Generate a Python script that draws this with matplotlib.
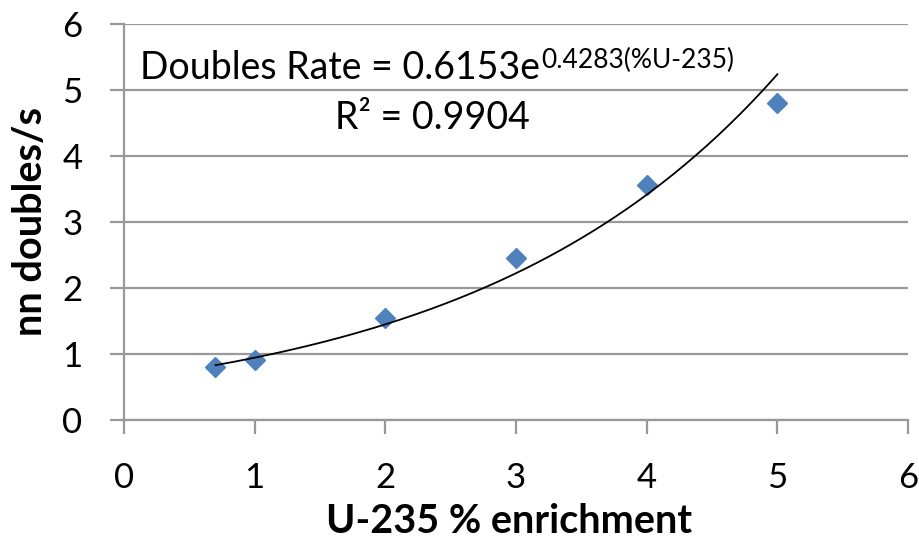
import matplotlib
matplotlib.use("Agg")
import matplotlib.pyplot as plt
import numpy as np

enrichment = [0.7, 1, 2, 3, 4, 5]
doubles = [0.81, 0.91, 1.54, 2.46, 3.56, 4.80]
fit_a = 0.6153
fit_b = 0.4283
r_squared = 0.9904
x_ticks = [0, 1, 2, 3, 4, 5, 6]
y_ticks = [0, 1, 2, 3, 4, 5, 6]

plt.rcParams["font.family"] = ["Lato", "DejaVu Sans"]

grid_color = "#999999"
marker_color = "#4F81BD"

fig = plt.figure(figsize=(9.2, 5.4), dpi=100)
ax = fig.add_axes([124 / 920, 1 - 420 / 540, 784 / 920, 396 / 540])

ax.set_xlim(0, 6)
ax.set_ylim(0, 6)
ax.set_xticks(x_ticks)
ax.set_yticks(y_ticks)
ax.yaxis.grid(True, color=grid_color, linewidth=1.6)
ax.set_axisbelow(True)

for side in ["top", "right"]:
    ax.spines[side].set_visible(False)
for side in ["left", "bottom"]:
    ax.spines[side].set_color(grid_color)
    ax.spines[side].set_linewidth(1.6)

ax.tick_params(axis="both", length=10, width=1.6, color=grid_color,
               labelsize=25, pad=20)

# trendline from the displayed fit
xs = np.linspace(min(enrichment), max(enrichment), 200)
ax.plot(xs, fit_a * np.exp(fit_b * xs), color="black", linewidth=1.3, zorder=3)

ax.plot(enrichment, doubles, linestyle="none", marker="D", markersize=10,
        color=marker_color, zorder=2, clip_on=False)

fig.text(509 / 920, 7 / 540, "U-235 % enrichment", fontsize=28.5,
         fontweight="bold", ha="center", va="baseline")
fig.text(42 / 920, 1 - 222 / 540, "nn doubles/s", fontsize=28.5,
         fontweight="bold", ha="center", va="baseline", rotation=90,
         rotation_mode="anchor")

eq = ax.text(0.12, 5.17, f"Doubles Rate = {fit_a}e", fontsize=27,
             va="baseline", ha="left")
ax.annotate(f"{fit_b}(%U-235)", xy=(1, 1), xycoords=eq, xytext=(1, 1),
            textcoords="offset points", fontsize=19, va="top", ha="left")
ax.text(2.36, 4.41, f"R² = {r_squared}", fontsize=27, va="baseline", ha="center")

fig.savefig("out.png", dpi=100)
